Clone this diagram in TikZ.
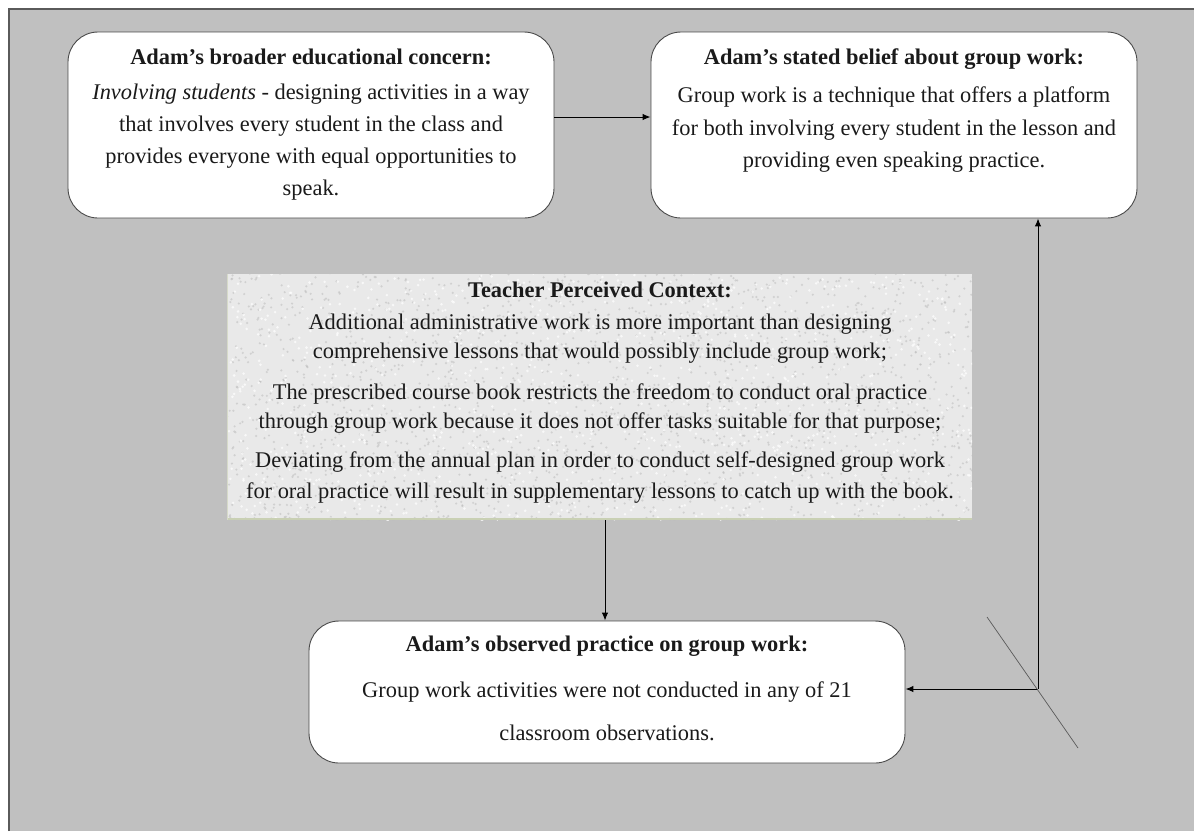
\documentclass[tikz,border=0pt]{standalone}
\usepackage{fontspec}
\setmainfont{Liberation Serif}
\usetikzlibrary{arrows.meta}

\definecolor{panel}{HTML}{C0C0C0}
\definecolor{rim}{HTML}{5A5A5A}
\definecolor{cardline}{HTML}{4A4A4A}
\definecolor{ink}{HTML}{1A1A1A}
\definecolor{paper}{HTML}{E9E9E9}
\definecolor{speck}{HTML}{BDBDBD}
\definecolor{moss}{HTML}{C9D0B4}

\tikzset{
  card/.style={draw=cardline, line width=0.9pt, fill=white,
    rounded corners=30pt, inner sep=0pt},
  txt/.style={anchor=base, inner sep=0pt, text=ink,
    font=\fontsize{22.4}{26}\selectfont},
  link/.style={draw=black, line width=1pt,
    -{Latex[length=8pt,width=6.5pt]}},
}

\begin{document}
\begin{tikzpicture}[x=1pt,y=-1pt]
\useasboundingbox (0,0) rectangle (1194,831);
\fill[white] (0,0) rectangle (1194,831);

% grey panel with a rule along its top and left
\fill[panel] (9,9) rectangle (1194,831);
\draw[rim, line width=1.5pt] (9,831) -- (9,9) -- (1194,9);

% --- upper left: broader concern
\node[card, minimum width=486pt, minimum height=186pt] (A) at (311,125) {};
\node[txt] (a1) at (311,64) {\bfseries Adam’s broader educational concern:};
\node[txt] (a2) at (311,99) {\itshape Involving students\upshape{} - designing activities in a way};
\node[txt] (a3) at (311,131) {that involves every student in the class and};
\node[txt] (a4) at (311,163) {provides everyone with equal opportunities to};
\node[txt] (a5) at (311,195) {speak.};

% --- upper right: stated belief
\node[card, minimum width=486pt, minimum height=186pt] (B) at (894,125) {};
\node[txt] (b1) at (894,64) {\bfseries Adam’s stated belief about group work:};
\node[txt] (b2) at (894,102) {Group work is a technique that offers a platform};
\node[txt] (b3) at (894,135) {for both involving every student in the lesson and};
\node[txt] (b4) at (894,167) {providing even speaking practice.};

% --- middle: perceived context on a speckled paper ground
\node[fill=paper, inner sep=0pt, minimum width=745pt, minimum height=246pt] (C) at (599.5,397) {};
\begin{scope}
  \clip (227,274) rectangle (972,520);
  \pgfmathsetseed{17}
  \foreach \i in {1,...,2000}{
    \fill[speck, opacity=0.55] ({599.5+375*rand},{397+125*rand}) circle (1.2);
  }
  \foreach \i in {1,...,1100}{
    \fill[white, opacity=0.7] ({599.5+375*rand},{397+125*rand}) circle (1.4);
  }
\end{scope}
\draw[moss, line width=2.5pt] (227,519) -- (972,519);
\draw[moss!60!paper, line width=1pt] (227.5,274) -- (227.5,520);
\node[txt] (c1) at (600,297) {\bfseries Teacher Perceived Context:};
\node[txt] (c2) at (600,329) {Additional administrative work is more important than designing};
\node[txt] (c3) at (600,358) {comprehensive lessons that would possibly include group work;};
\node[txt] (c4) at (600,399) {The prescribed course book restricts the freedom to conduct oral practice};
\node[txt] (c5) at (600,428) {through group work because it does not offer tasks suitable for that purpose;};
\node[txt] (c6) at (600,467) {Deviating from the annual plan in order to conduct self-designed group work};
\node[txt] (c7) at (600,498) {for oral practice will result in supplementary lessons to catch up with the book.};

% --- bottom: observed practice
\node[card, minimum width=596pt, minimum height=142pt] (D) at (607,692) {};
\node[txt] (d1) at (607,651) {\bfseries Adam’s observed practice on group work:};
\node[txt] (d2) at (607,697) {Group work activities were not conducted in any of 21};
\node[txt] (d3) at (607,740) {classroom observations.};

% --- connectors
\coordinate (top) at (600,117);
\draw[link] (A.east |- top) -- (B.west |- top);
\coordinate (drop) at (605,520);
\draw[link] (drop) -- (drop |- D.north);

\coordinate (knee) at (1038,689);
\draw[link] (knee) -- (D.east |- knee);
\draw[link] (knee) -- (knee |- B.south);

\coordinate (tick1) at (987,617);
\coordinate (tick2) at (1078,748);
\draw[rim, line width=0.7pt] (tick1) -- (tick2);
\end{tikzpicture}
\end{document}
